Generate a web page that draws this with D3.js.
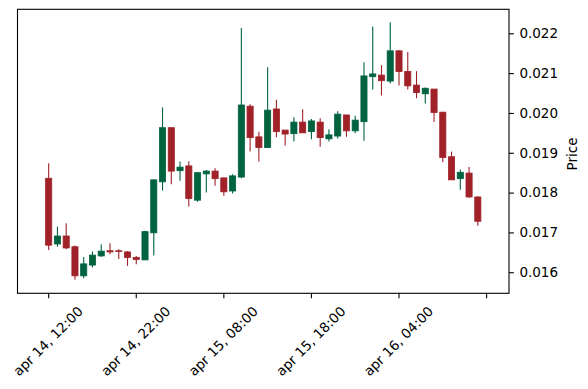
<!DOCTYPE html>
<html>
<head>
<meta charset="utf-8">
<script src="https://cdn.jsdelivr.net/npm/d3@7"></script>
<style>
  body { margin: 0; background: #fff; }
  text { font-family: "DejaVu Sans", sans-serif; fill: #000; }
</style>
</head>
<body>
<svg id="chart" width="588" height="389"></svg>
<script>
// hourly candles, apr 14 12:00 onward
var opens  = [0.01836, 0.01671, 0.01691, 0.01664, 0.01591, 0.01618, 0.01641, 0.01654, 0.01654, 0.01651,
              0.01637, 0.01631, 0.01699, 0.01827, 0.01963, 0.01855, 0.01867, 0.01781, 0.01847, 0.01854,
              0.01837, 0.01804, 0.01839, 0.02017, 0.01940, 0.01913, 0.02010, 0.01957, 0.01948, 0.01977,
              0.01953, 0.01977, 0.01935, 0.01942, 0.01995, 0.01955, 0.01978, 0.02091, 0.02095, 0.02080,
              0.02156, 0.02104, 0.02070, 0.02048, 0.02060, 0.02002, 0.01890, 0.01835, 0.01849, 0.01789];
var highs  = [0.01874, 0.01714, 0.01723, 0.01667, 0.01638, 0.01652, 0.01670, 0.01673, 0.01658, 0.01653,
              0.01641, 0.01704, 0.01833, 0.02014, 0.01963, 0.01878, 0.01879, 0.01852, 0.01857, 0.01861,
              0.01837, 0.01846, 0.02213, 0.02022, 0.01953, 0.02115, 0.02033, 0.01957, 0.01989, 0.02009,
              0.01985, 0.01987, 0.01959, 0.02004, 0.01995, 0.01993, 0.02127, 0.02217, 0.02120, 0.02228,
              0.02158, 0.02153, 0.02105, 0.02064, 0.02060, 0.02002, 0.01903, 0.01858, 0.01864, 0.01791];
var lows   = [0.01656, 0.01664, 0.01658, 0.01581, 0.01585, 0.01612, 0.01638, 0.01645, 0.01633, 0.01616,
              0.01620, 0.01631, 0.01642, 0.01805, 0.01821, 0.01830, 0.01765, 0.01777, 0.01800, 0.01817,
              0.01792, 0.01798, 0.01836, 0.01903, 0.01878, 0.01913, 0.01939, 0.01918, 0.01928, 0.01950,
              0.01934, 0.01915, 0.01928, 0.01936, 0.01940, 0.01949, 0.01930, 0.02059, 0.02044, 0.02074,
              0.02069, 0.02059, 0.02037, 0.02024, 0.01977, 0.01876, 0.01832, 0.01807, 0.01787, 0.01717];
var closes = [0.01668, 0.01691, 0.01661, 0.01591, 0.01621, 0.01643, 0.01653, 0.01651, 0.01652, 0.01637,
              0.01632, 0.01702, 0.01832, 0.01963, 0.01854, 0.01864, 0.01785, 0.01850, 0.01854, 0.01835,
              0.01802, 0.01842, 0.02020, 0.01938, 0.01913, 0.02007, 0.01953, 0.01947, 0.01977, 0.01950,
              0.01980, 0.01938, 0.01945, 0.01997, 0.01955, 0.01982, 0.02093, 0.02098, 0.02081, 0.02156,
              0.02104, 0.02068, 0.02051, 0.02062, 0.02001, 0.01888, 0.01832, 0.01851, 0.01789, 0.01728];

var xTickIdx    = [0, 10, 20, 30, 40, 50];
var xTickLabels = ['apr 14, 12:00', 'apr 14, 22:00', 'apr 15, 08:00', 'apr 15, 18:00', 'apr 16, 04:00', ''];
var yTicks      = [0.016, 0.017, 0.018, 0.019, 0.020, 0.021, 0.022];

var up_color = '#006340';
var down_color = '#a02128';
var font_size = '13.5px';

var candles = opens.map(function(o, i) {
  return {i: i, open: o, high: highs[i], low: lows[i], close: closes[i]};
});

var plot = {left: 17.5, right: 509, top: 9.3, bottom: 293.3};

var x_scale = d3.scaleLinear()
  .domain([-3.56, 52.56])
  .range([plot.left, plot.right]);

var y_scale = d3.scaleLinear()
  .domain([0.0154714, 0.0226026])
  .range([plot.bottom, plot.top]);

var svg = d3.select('#chart');
var step = x_scale(1) - x_scale(0);
var body_w = step * 0.7;

var candle_group = svg.append('g').attr('class', 'candles');

// wicks
candle_group.selectAll('.wick')
  .data(candles)
  .enter()
  .append('line')
  .attr('class', 'wick')
  .attr('x1', function(d) { return x_scale(d.i); })
  .attr('x2', function(d) { return x_scale(d.i); })
  .attr('y1', function(d) { return y_scale(d.high); })
  .attr('y2', function(d) { return y_scale(d.low); })
  .style('stroke', function(d) { return d.close >= d.open ? up_color : down_color; })
  .style('stroke-width', '1.1px');

// bodies
candle_group.selectAll('.body')
  .data(candles)
  .enter()
  .append('rect')
  .attr('class', 'body')
  .attr('x', function(d) { return x_scale(d.i) - body_w / 2; })
  .attr('width', body_w)
  .attr('y', function(d) { return y_scale(Math.max(d.open, d.close)); })
  .attr('height', function(d) { return Math.abs(y_scale(d.open) - y_scale(d.close)); })
  .style('fill', function(d) { return d.close >= d.open ? up_color : down_color; })
  .style('stroke', function(d) { return d.close >= d.open ? up_color : down_color; })
  .style('stroke-width', '0.8px');

// frame
svg.append('rect')
  .attr('x', plot.left)
  .attr('y', plot.top)
  .attr('width', plot.right - plot.left)
  .attr('height', plot.bottom - plot.top)
  .style('fill', 'none')
  .style('stroke', '#000')
  .style('stroke-width', '1.1px');

// right y axis
var y_axis = d3.axisRight(y_scale)
  .tickValues(yTicks)
  .tickFormat(d3.format('.3f'))
  .tickSizeInner(4.9)
  .tickSizeOuter(0)
  .tickPadding(5.5);

var y_g = svg.append('g')
  .attr('transform', 'translate(' + plot.right + ',0)')
  .call(y_axis);
y_g.select('.domain').remove();
y_g.selectAll('.tick line').style('stroke', '#000').style('stroke-width', '1.1px');
y_g.selectAll('.tick text')
  .style('font-family', '"DejaVu Sans", sans-serif')
  .style('font-size', font_size)
  .style('fill', '#000');

svg.append('text')
  .attr('transform', 'translate(572,154) rotate(-90)')
  .attr('text-anchor', 'middle')
  .attr('dominant-baseline', 'central')
  .style('font-size', font_size)
  .text('Price');

// bottom x ticks
var x_g = svg.append('g').attr('class', 'x_ticks');
x_g.selectAll('line')
  .data(xTickIdx)
  .enter()
  .append('line')
  .attr('x1', function(d) { return x_scale(d); })
  .attr('x2', function(d) { return x_scale(d); })
  .attr('y1', plot.bottom)
  .attr('y2', plot.bottom + 4.9)
  .style('stroke', '#000')
  .style('stroke-width', '1.1px');

// rotated labels, centred under their tick
x_g.selectAll('text')
  .data(xTickIdx)
  .enter()
  .append('text')
  .attr('text-anchor', 'middle')
  .attr('dominant-baseline', 'central')
  .style('font-size', font_size)
  .text(function(d, i) { return xTickLabels[i]; })
  .attr('transform', function(d) {
    return 'translate(' + (x_scale(d) - 0.8) + ',341) rotate(-45)';
  });
</script>
</body>
</html>
